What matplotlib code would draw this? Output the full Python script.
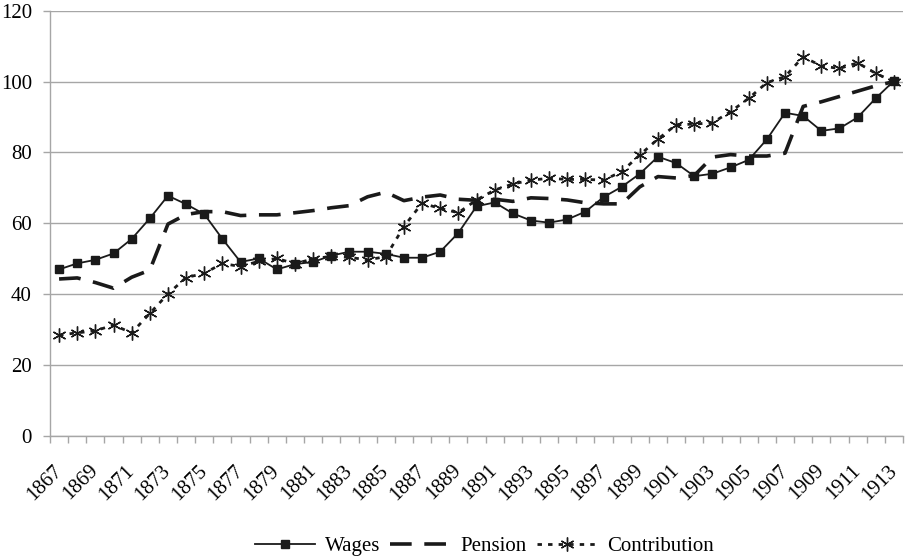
import matplotlib
matplotlib.use("Agg")
import matplotlib.pyplot as plt
from matplotlib.ticker import FixedLocator
import numpy as np

years = list(range(1867, 1914))
wages = [47.0, 48.7, 49.7, 51.5, 55.6, 61.4, 67.8, 65.4, 62.6, 55.6,
         49.1, 50.1, 47.0, 48.5, 49.1, 50.9, 52.0, 52.0, 51.4, 50.3,
         50.3, 52.0, 57.3, 64.8, 65.9, 62.8, 60.8, 60.2, 61.1, 63.3,
         67.4, 70.3, 74.0, 78.8, 77.0, 73.3, 74.0, 75.8, 77.9, 83.7,
         91.2, 90.3, 86.1, 86.8, 89.9, 95.3, 100.2]
pension = [44.3, 44.6, 43.3, 41.7, 44.8, 46.8, 59.8, 62.5, 63.3, 63.3,
           62.2, 62.4, 62.4, 63.0, 63.6, 64.4, 65.0, 67.5, 68.8, 66.4,
           67.4, 68.0, 66.8, 66.5, 66.8, 66.2, 67.2, 67.0, 66.6, 65.8,
           65.5, 65.5, 70.3, 73.2, 72.8, 73.5, 78.7, 79.4, 79.0, 79.0,
           79.8, 93.0, 94.3, 95.8, 97.3, 98.8, 100.0]
contribution = [28.5, 29.1, 29.7, 31.3, 29.1, 34.6, 40.1, 44.7, 45.9, 48.7,
                47.8, 49.3, 50.1, 48.6, 50.0, 50.7, 50.4, 49.7, 50.6, 59.1,
                65.7, 64.2, 63.0, 66.6, 69.4, 71.1, 72.2, 72.7, 72.4, 72.4,
                72.2, 74.6, 79.3, 83.8, 87.8, 88.0, 88.4, 91.5, 95.3, 99.7,
                101.4, 107.0, 104.4, 103.7, 105.3, 102.3, 100.0]
tick_labels = [str(y) for y in years[::2]]

plt.rcParams['font.family'] = ['Liberation Serif', 'DejaVu Serif']

fig = plt.figure(figsize=(9.05, 5.58), dpi=100)
ax = fig.add_axes([50/905, 1-436/558, 853/905, (436-10.7)/558])

x = np.arange(len(years))
grid_c = '#a6a6a6'
ink = '#1a1a1a'

ax.plot(x, wages, color=ink, lw=1.3, marker='s', ms=6,
        mfc=ink, mec=ink, label='Wages', zorder=3)
ax.plot(x, pension, color=ink, lw=2.6, dashes=(6, 3.5),
        label='Pension', zorder=3)
ax.plot(x, contribution, color=ink, lw=2.0, dashes=(1.6, 2.2),
        marker=(6, 2, 0), ms=10, mew=1.0, mec=ink, label='Contribution', zorder=3)

ax.set_xlim(-0.5, len(years) - 0.5)
ax.set_ylim(0, 120)
ax.set_yticks(range(0, 121, 20))
ax.yaxis.grid(True, color=grid_c, lw=1.0)
ax.set_axisbelow(True)

ax.set_xticks(x[::2])
ax.set_xticklabels(tick_labels, rotation=45, ha='right', va='center',
                   rotation_mode='anchor', fontsize=15)
ax.xaxis.set_minor_locator(FixedLocator(np.arange(-0.5, len(years), 1.0)))
ax.tick_params(axis='x', which='major', length=0, pad=23)
ax.tick_params(axis='x', which='minor', length=5, color=grid_c, width=1.0)
ax.tick_params(axis='y', length=5, color=grid_c, width=1.0, labelsize=15, pad=8)

for s in ['top', 'right']:
    ax.spines[s].set_visible(False)
ax.spines['left'].set_color(grid_c)
ax.spines['bottom'].set_color(grid_c)
ax.spines['left'].set_linewidth(1.0)
ax.spines['bottom'].set_linewidth(1.0)

leg = fig.legend(loc='center', bbox_to_anchor=(0.535, 1-546/558), ncol=3,
                 frameon=False, fontsize=15, handlelength=2.9,
                 columnspacing=0.5, handletextpad=0.45, borderpad=0.0)

fig.savefig('out.png', dpi=100)
